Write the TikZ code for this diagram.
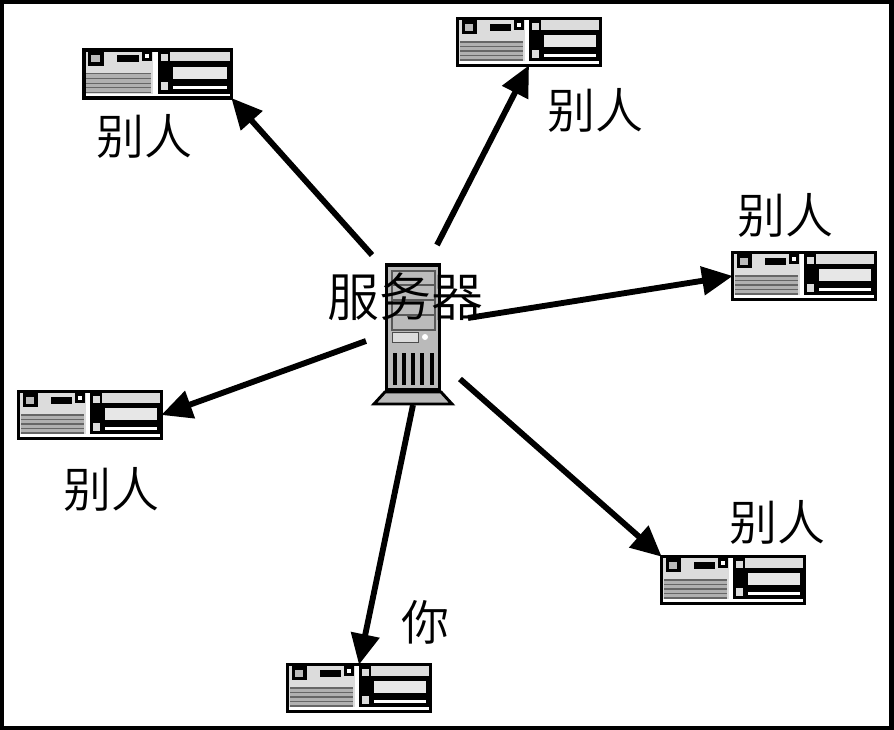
\documentclass[tikz,border=0pt]{standalone}
\usepackage{fontspec}
\usetikzlibrary{arrows.meta}
\newfontfamily\cjk{Noto Sans CJK SC DemiLight}
\definecolor{panel}{HTML}{DCDCDC}
\definecolor{stripe}{HTML}{B0B0B0}
\definecolor{tower}{HTML}{BABABA}

\tikzset{
  pcbox/.style={rectangle,draw,line width=2.6pt,fill=panel,inner sep=0pt,outer sep=0pt,minimum width=106.9pt,minimum height=34.9pt,transform shape},
  pics/pc/.style={code={
    \node[pcbox] (-box) at (73,25) {};
    \fill[black] (72,2) rectangle (144,46);
    \fill[white] (69,2) rectangle (73,46);
    \fill[black] (6,3) rectangle (21,17);
    \fill[panel!85!black] (9,7) rectangle (17,14);
    \fill[black] (34,7) rectangle (55,14);
    \fill[black] (58,3) rectangle (68,13);
    \fill[white] (61,6) rectangle (65,10);
    \fill[stripe] (4,25) rectangle (67,43);
    \foreach \y in {25,29.5,34,38.5,43} \fill[black!60] (4,\y-.6) rectangle (67,\y+.6);
    \fill[white] (2,44) rectangle (144,47);
    \fill[panel] (76,6) rectangle (83,13);
    \fill[panel] (76,33) rectangle (83,41);
    \fill[panel] (85,3) rectangle (143,13);
    \fill[panel!70!white] (88,18) rectangle (140,30);
    \fill[white] (88,37) rectangle (140,40);
    \draw[line width=2.6pt] (-box.south west) rectangle (-box.north east);
  }},
  lbl/.style={font=\cjk\fontsize{36}{36}\selectfont,inner sep=0pt},
  link/.style={line width=4.4pt,-{Triangle[length=23pt,width=21pt]}}
}

\begin{document}
\begin{tikzpicture}[x=0.75pt,y=-0.75pt]
  % frame
  \path[use as bounding box,fill=black] (0,0) rectangle (894,730);
  \fill[white] (4,4) rectangle (889,726);

  % computers
  \pic[scale=1.035] (pc1) at (82,48) {pc};
  \pic (pc2) at (456,17) {pc};
  \pic (pc3) at (731,251) {pc};
  \pic (pc4) at (17,390) {pc};
  \pic (pc5) at (660,555) {pc};
  \pic (pc6) at (286,663) {pc};

  % server
  \draw[line width=2.2pt,fill=tower] (385,392) -- (441,392) -- (452,404) -- (374,404) -- cycle;
  \node[rectangle,draw,line width=2.6pt,fill=tower,inner sep=0pt,minimum width=39.4pt,minimum height=94pt] (srv) at (413,327.5) {};
  \draw[black!65,line width=.8pt,fill=panel!85!black] (392,271) rectangle (435,330);
  \foreach \y in {285,300,315} \draw[black!65,line width=.8pt] (392,\y) -- (435,\y);
  \draw[black!70,line width=.7pt,fill=panel] (392,332) rectangle (418,342);
  \fill[white] (425,337) circle (3);
  \foreach \x in {395,404,413,422,432} \fill[black] (\x-1.6,353) rectangle (\x+1.6,385);

  % labels
  \node[lbl] (t1) at (144,136) {别人};
  \node[lbl] (t2) at (595,110) {别人};
  \node[lbl] (t3) at (785,215) {别人};
  \node[lbl] (t4) at (112,489) {别人};
  \node[lbl] (t5) at (777,522) {别人};
  \node[lbl] (t6) at (425,622) {你};
  \node[lbl,font=\cjk\fontsize{39}{39}\selectfont] (t0) at (405,297) {服务器};

  % arrows
  \coordinate (s1) at (372,255);
  \coordinate (s2) at (437,245);
  \coordinate (s3) at (468,318);
  \coordinate (s4) at (366,341);
  \coordinate (s5) at (460,379);
  \coordinate (s6) at (413,405);
  \draw[link] (s1) -- (pc1-box.south east);
  \draw[link] (s2) -- (pc2-box.south);
  \draw[link] (s3) -- (pc3-box.west);
  \draw[link] (s4) -- (pc4-box.east);
  \draw[link] (s5) -- (pc5-box.north west);
  \draw[link] (s6) -- (pc6-box.north);
\end{tikzpicture}
\end{document}
